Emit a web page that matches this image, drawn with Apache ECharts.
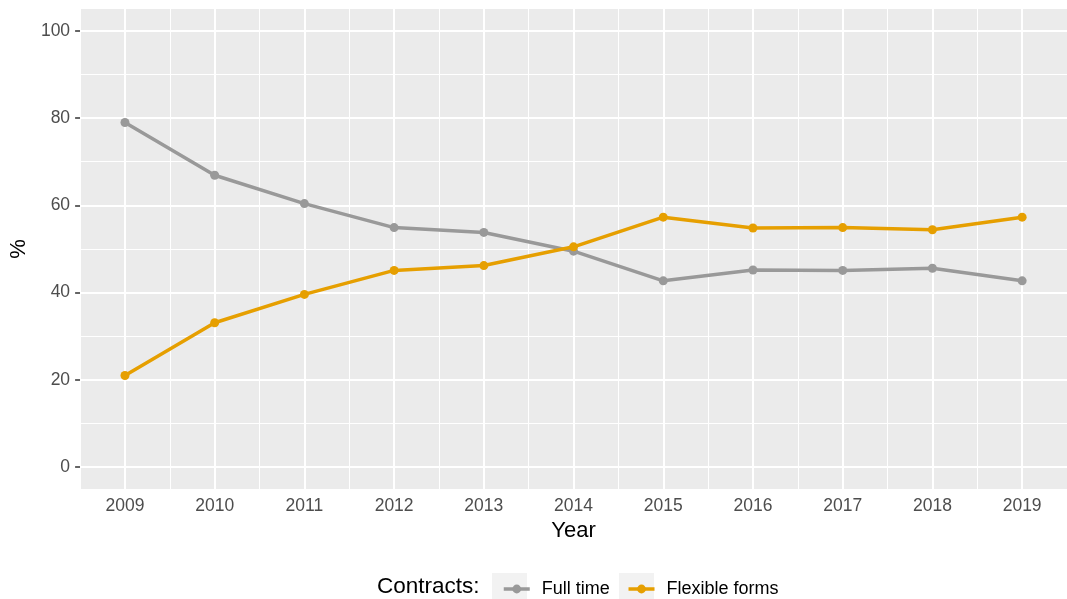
<!DOCTYPE html>
<html>
<head>
<meta charset="utf-8">
<script src="https://cdn.jsdelivr.net/npm/echarts@6/dist/echarts.min.js"></script>
<style>
html,body{margin:0;padding:0;background:#fff;}
#c{width:1067px;height:599px;}
</style>
</head>
<body>
<div id="c"></div>
<script>
const years = [2009, 2010, 2011, 2012, 2013, 2014, 2015, 2016, 2017, 2018, 2019];
const fullTime = [79.0, 66.9, 60.4, 54.9, 53.8, 49.5, 42.7, 45.2, 45.1, 45.6, 42.7];
const flexible = [21.0, 33.1, 39.6, 45.1, 46.2, 50.5, 57.3, 54.8, 54.9, 54.4, 57.3];
const yTicks = [0, 20, 40, 60, 80, 100];
const yMinor = [10, 30, 50, 70, 90];
const xMinor = [2008.5, 2009.5, 2010.5, 2011.5, 2012.5, 2013.5, 2014.5, 2015.5, 2016.5, 2017.5, 2018.5, 2019.5];
const seriesNames = ['Full time', 'Flexible forms'];
const legendTitle = 'Contracts:';

const FONT = '"Liberation Sans", Arial, sans-serif';
const chart = echarts.init(document.getElementById('c'), null, {renderer: 'canvas'});

const gridLines = [];
yMinor.forEach(v => gridLines.push({yAxis: v, lineStyle: {width: 1}}));
xMinor.forEach(v => gridLines.push({xAxis: v, lineStyle: {width: 1}}));
yTicks.forEach(v => gridLines.push({yAxis: v, lineStyle: {width: 2}}));
years.forEach(v => gridLines.push({xAxis: v, lineStyle: {width: 2}}));

const option = {
  animation: false,
  textStyle: {fontFamily: FONT},
  grid: {left: 80, right: -9, top: 9, bottom: 110, show: true, backgroundColor: '#EBEBEB', borderWidth: 0},
  xAxis: {
    type: 'value', min: 2008.5, max: 2019.5,
    name: 'Year', nameLocation: 'middle', nameGap: 29,
    nameTextStyle: {fontSize: 22, color: '#000', fontFamily: FONT},
    axisLine: {show: false},
    splitLine: {show: false},
    axisTick: {show: true, length: 5, lineStyle: {color: '#333', width: 1.5}, customValues: years},
    axisLabel: {customValues: years, color: '#4D4D4D', fontSize: 17.5, margin: 8, fontFamily: FONT, formatter: v => String(v)}
  },
  yAxis: {
    type: 'value', min: -5, max: 105,
    name: '%', nameLocation: 'middle', nameGap: 50, nameRotate: 90,
    nameTextStyle: {fontSize: 22, color: '#000', fontFamily: FONT},
    axisLine: {show: false},
    splitLine: {show: false},
    axisTick: {show: true, length: 5, lineStyle: {color: '#333', width: 1.5}, customValues: yTicks},
    axisLabel: {customValues: yTicks, color: '#4D4D4D', fontSize: 17.5, margin: 10, fontFamily: FONT}
  },
  legend: {
    left: 497, top: 575,
    itemWidth: 26, itemHeight: 11, itemGap: 17,
    lineStyle: {width: 3.5},
    textStyle: {fontSize: 18, color: '#000', fontFamily: FONT, padding: [0, 0, 0, 7]},
    data: seriesNames
  },
  graphic: [
    {type: 'text', left: 377, top: 575, style: {text: legendTitle, font: '22.5px ' + FONT, fill: '#000'}},
    {type: 'rect', left: 492, top: 573, shape: {width: 35, height: 28}, style: {fill: '#F2F2F2'}, z: -1},
    {type: 'rect', left: 619, top: 573, shape: {width: 35, height: 28}, style: {fill: '#F2F2F2'}, z: -1}
  ],
  series: [
    {
      type: 'line', name: '_grid', data: [], silent: true, z: 1,
      markLine: {silent: true, z: 1, symbol: 'none', label: {show: false}, animation: false,
        lineStyle: {color: '#FFFFFF', type: 'solid'}, emphasis: {disabled: true}, data: gridLines}
    },
    {
      type: 'line', name: seriesNames[0], z: 3,
      data: years.map((y, i) => [y, fullTime[i]]),
      color: '#999999', symbol: 'circle', symbolSize: 9,
      lineStyle: {width: 3.5, color: '#999999'}, itemStyle: {color: '#999999'}
    },
    {
      type: 'line', name: seriesNames[1], z: 4,
      data: years.map((y, i) => [y, flexible[i]]),
      color: '#E69F00', symbol: 'circle', symbolSize: 9,
      lineStyle: {width: 3.5, color: '#E69F00'}, itemStyle: {color: '#E69F00'}
    }
  ]
};
chart.setOption(option);
</script>
</body>
</html>
